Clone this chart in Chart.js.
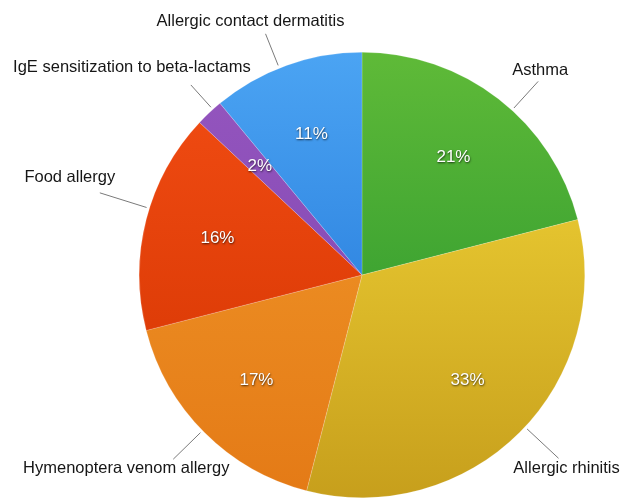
<!DOCTYPE html>
<html>
<head>
<meta charset="utf-8">
<title>Allergic conditions</title>
<script src="https://cdn.jsdelivr.net/npm/chart.js@4/dist/chart.umd.min.js"></script>
<style>
  html, body { margin: 0; padding: 0; background: #ffffff; }
  #wrap { width: 620px; height: 500px; }
</style>
</head>
<body>
<div id="wrap"><canvas id="pie" width="620" height="500"></canvas></div>
<script>
// Share of each condition, in percent, clockwise from 12 o'clock
const categories = [
  'Asthma',
  'Allergic rhinitis',
  'Hymenoptera venom allergy',
  'Food allergy',
  'IgE sensitization to beta-lactams',
  'Allergic contact dermatitis'
];
const shares = [21, 33, 17, 16, 2, 11];

// Light (top) and dark (bottom) shade of each slice
const topShades = ['#5fba38', '#f6da3a', '#f29b2c', '#f34e14', '#9656bf', '#4ba4f3'];
const bottomShades = ['#1f8f2c', '#c79f1c', '#e47a16', '#d23200', '#7a44ae', '#196cd2'];

const FONT = '"Liberation Sans", Arial, Helvetica, sans-serif';

// Leader-line and caption placement for each slice:
// angle nudge (deg), line end radius beyond rim (px), caption offset from line end (px)
const calloutLayout = [
  { shift: 4.5, reach: 39, dx: 2, dy: -11 },
  { shift: -2, reach: 46, dx: 8, dy: 10 },
  { shift: 0.7, reach: 41, dx: -47, dy: 9 },
  { shift: 3, reach: 52, dx: -30, dy: -15 },
  { shift: 1.2, reach: 33, dx: -59, dy: -17 },
  { shift: -2, reach: 37, dx: -15, dy: -12 }
];

function sliceFill(context) {
  const chart = context.chart;
  const area = chart.chartArea;
  const i = context.dataIndex;
  if (!area) return topShades[i];
  const g = chart.ctx.createLinearGradient(0, area.top, 0, area.bottom);
  g.addColorStop(0, topShades[i]);
  g.addColorStop(1, bottomShades[i]);
  return g;
}

const pieLabels = {
  id: 'pieLabels',
  afterDatasetsDraw(chart) {
    const ctx = chart.ctx;
    const arcs = chart.getDatasetMeta(0).data;
    const total = shares.reduce((a, b) => a + b, 0);
    arcs.forEach((arc, i) => {
      const { x, y, outerRadius, startAngle, endAngle } = arc.getProps(['x', 'y', 'outerRadius', 'startAngle', 'endAngle'], true);
      const mid = (startAngle + endAngle) / 2;

      // percentage inside the slice
      const pr = outerRadius * 0.67;
      ctx.save();
      ctx.font = '17px ' + FONT;
      ctx.textAlign = 'center';
      ctx.textBaseline = 'middle';
      ctx.shadowColor = 'rgba(0,0,0,0.7)';
      ctx.shadowBlur = 2;
      ctx.shadowOffsetX = 0.5;
      ctx.shadowOffsetY = 1;
      ctx.fillStyle = '#ffffff';
      const pct = Math.round(shares[i] / total * 100) + '%';
      ctx.fillText(pct, x + Math.cos(mid) * pr, y + Math.sin(mid) * pr);
      ctx.restore();

      // leader line and caption outside the pie
      const lay = calloutLayout[i];
      const a = mid + lay.shift * Math.PI / 180;
      const r0 = outerRadius + 3;
      const r1 = outerRadius + lay.reach;
      const x0 = x + Math.cos(a) * r0, y0 = y + Math.sin(a) * r0;
      const x1 = x + Math.cos(a) * r1, y1 = y + Math.sin(a) * r1;
      ctx.save();
      ctx.strokeStyle = '#7a7a7a';
      ctx.lineWidth = 1;
      ctx.beginPath();
      ctx.moveTo(x0, y0);
      ctx.lineTo(x1, y1);
      ctx.stroke();
      ctx.font = '16.5px ' + FONT;
      ctx.fillStyle = '#161616';
      ctx.textAlign = 'center';
      ctx.textBaseline = 'middle';
      ctx.fillText(categories[i], x1 + lay.dx, y1 + lay.dy);
      ctx.restore();
    });
  }
};

new Chart(document.getElementById('pie'), {
  type: 'pie',
  data: {
    labels: categories,
    datasets: [{
      data: shares,
      backgroundColor: sliceFill,
      borderColor: 'rgba(255,255,255,0.35)',
      borderWidth: 0.5
    }]
  },
  options: {
    responsive: false,
    animation: false,
    devicePixelRatio: 1,
    layout: { padding: { top: 52, bottom: 2, left: 104, right: 0 } },
    plugins: {
      legend: { display: false },
      tooltip: { enabled: false }
    }
  },
  plugins: [pieLabels]
});
</script>
</body>
</html>
